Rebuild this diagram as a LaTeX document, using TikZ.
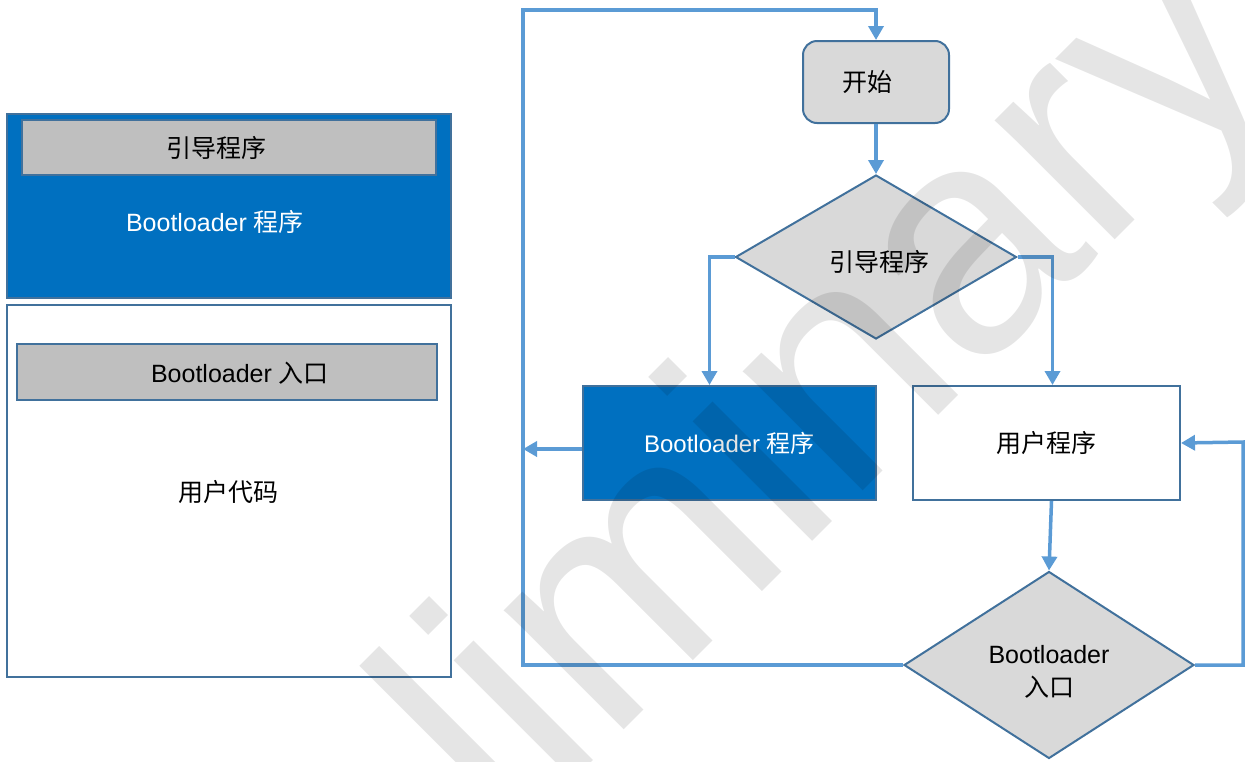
\documentclass[tikz,border=0pt]{standalone}
\usepackage{fontspec}
\setmainfont{Liberation Sans}
\newfontfamily\cjk{Noto Sans CJK SC}
\usepackage{tikz}
\usetikzlibrary{shapes.geometric,arrows.meta}
\definecolor{boxblue}{HTML}{0070C0}
\definecolor{edgeblue}{HTML}{41719C}
\definecolor{flowblue}{HTML}{5B9BD5}
\definecolor{fillgray}{HTML}{D9D9D9}
\definecolor{tabgray}{HTML}{BFBFBF}

\begin{document}
\begin{tikzpicture}[x=1pt, y=-1pt, every node/.style={font=\fontsize{25}{33}\selectfont},
    box/.style={draw=edgeblue, line width=2pt, inner sep=0pt},
    decision/.style={box, diamond, fill=fillgray, align=center},
    flow/.style={draw=flowblue, line width=3.5pt, -{Triangle[width=15pt,length=14pt]}}]
    \useasboundingbox (0,0) rectangle (1245,761);

    % memory map
    \node[box, fill=boxblue, minimum width=444, minimum height=184] (bootmem) at (229,206) {};
    \node[box, fill=tabgray, minimum width=414, minimum height=55] (guide) at (229,147.5) {};
    \node (guidelbl) at (216,148) {\cjk 引导程序};
    \node[text=white] (bootlbl) at (215,222) {Bootloader {\cjk 程序}};
    \node[box, fill=white, minimum width=444, minimum height=372] (usermem) at (229,491) {};
    \node[box, fill=tabgray, minimum width=420, minimum height=56] (entry) at (227,372) {};
    \node (entrylbl) at (240,373) {Bootloader {\cjk 入口}};
    \node (usercode) at (228,492) {\cjk 用户代码};

    % flow chart
    \node[box, fill=fillgray, rounded corners=14pt, minimum width=146, minimum height=82,
      label={[xshift=-9pt]center:{\cjk 开始}}] (start) at (876,82) {};
    \node[decision, minimum width=281, minimum height=164,
      label={[xshift=3pt, yshift=-5pt]center:{\cjk 引导程序}}] (guidechk) at (876,257) {};
    \node[box, fill=boxblue, text=white, minimum width=293, minimum height=114,
      font=\fontsize{24}{30}\selectfont] (bootprog) at (729.5,443) {Bootloader {\cjk 程序}};
    \node[box, fill=white, minimum width=267, minimum height=114] (userprog) at (1046.5,443) {\cjk 用户程序};
    \node[decision, minimum width=290, minimum height=187,
      label={[yshift=-7pt, align=center]center:Bootloader\\{\cjk 入口}}] (entrychk) at (1049,665) {};
    \coordinate (looptop) at (523,10);
    \coordinate (rail) at (1243,442);

    \draw[flow] (start.south) -- (guidechk.north);
    \draw[flow] (guidechk.west) -| ([xshift=-20pt]bootprog.north);
    \draw[flow] (guidechk.east) -| ([xshift=6pt]userprog.north);
    \draw[flow] ([xshift=5pt]userprog.south) -- (entrychk.north);
    \draw[flow] (entrychk.east) -| (rail) -- (userprog.east);
    \draw[flow] (entrychk.west) -| (looptop) -| (start.north);
    \draw[flow] ([yshift=-6pt]bootprog.west) -- ([yshift=-6pt]bootprog.west -| looptop);

    % watermark
    \begin{scope}
      \clip (0,0) rectangle (1245,761);
      \node[anchor=base west, rotate=45, text=black, opacity=0.1, inner sep=0pt,
        font=\fontsize{320}{320}\selectfont] (mark) at (156,1198) {Preliminary};
    \end{scope}
\end{tikzpicture}
\end{document}
